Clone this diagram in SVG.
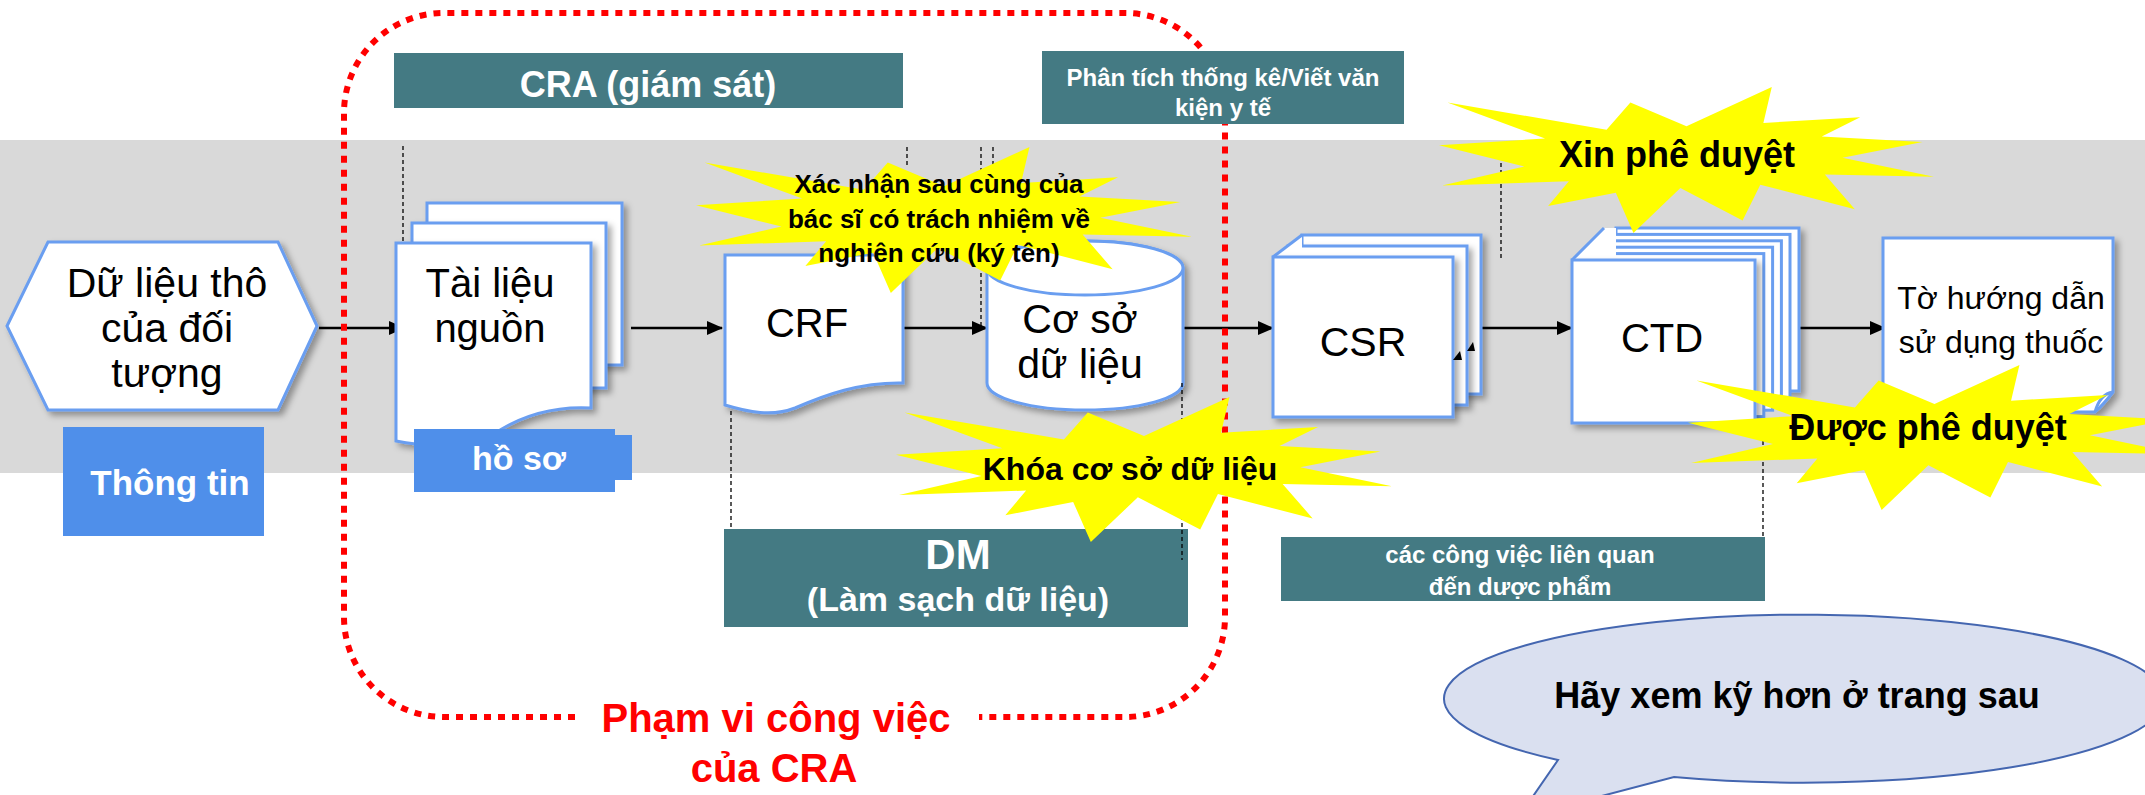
<svg xmlns="http://www.w3.org/2000/svg" xmlns:xlink="http://www.w3.org/1999/xlink" width="2145" height="795" viewBox="0 0 2145 795">
<style>
text{font-family:"Liberation Sans",Arial,sans-serif;}
.pg{fill:#fff;stroke:#6a9ef0;stroke-width:3;}
.teal{fill:#447a83;}
.blue{fill:#4f8fea;}
.wt{fill:#fff;font-weight:bold;text-anchor:middle;}
.bk{fill:#000;text-anchor:middle;}
.bb{fill:#000;font-weight:bold;text-anchor:middle;}
.dash{stroke:#000;stroke-width:1.3;stroke-dasharray:4 3;fill:none;}
.conn{stroke:#000;stroke-width:2.5;fill:none;marker-end:url(#ah);}
.star{fill:#ffff00;}
</style>
<defs>
<marker id="ah" markerUnits="userSpaceOnUse" markerWidth="16" markerHeight="14" viewBox="0 0 16 14" refX="15" refY="7" orient="auto">
<path d="M0,0 L16,7 L0,14 Z" fill="#000"/>
</marker>
<filter id="sh" x="-10%" y="-10%" width="130%" height="130%">
<feDropShadow dx="4" dy="4" stdDeviation="3" flood-color="#000" flood-opacity="0.35"/>
</filter>
<polygon id="seal" points="10800,5800 14522,0 14155,5325 18380,4457 16702,7315 21097,8137 17607,10475 21600,13290 16837,12942 18145,18095 14020,14457 13247,19737 10532,14935 8485,21600 7715,15627 4762,17617 5667,13937 135,14587 3722,11775 0,8615 4627,7617 370,2295 7312,6320 8352,2295"/>
</defs>

<rect x="0" y="0" width="2145" height="795" fill="#fff"/>
<rect x="0" y="140" width="2145" height="333" fill="#d9d9d9"/>

<g id="guides">
<line class="dash" x1="403" y1="146" x2="403" y2="255"/>
<line class="dash" x1="907" y1="147" x2="907" y2="165"/>
<line class="dash" x1="981" y1="147" x2="981" y2="327"/>
<line class="dash" x1="993" y1="147" x2="993" y2="165"/>
<line class="dash" x1="731" y1="397" x2="731" y2="529"/>
<line class="dash" x1="1501" y1="163" x2="1501" y2="258"/>
<line class="dash" x1="1763" y1="413" x2="1763" y2="537"/>
</g>

<g id="connectors">
<line class="conn" x1="319" y1="328" x2="404" y2="328"/>
<line class="conn" x1="631" y1="328" x2="722" y2="328"/>
<line class="conn" x1="898" y1="328" x2="987" y2="328"/>
<line class="conn" x1="1184" y1="328" x2="1273" y2="328"/>
<line class="conn" x1="1482" y1="328" x2="1572" y2="328"/>
<line class="conn" x1="1799" y1="328" x2="1885" y2="328"/>
</g>

<g id="raw-data">
<polygon class="pg" filter="url(#sh)" points="7,326 48,242 278,242 317,326 278,410 48,410"/>
<text class="bk" font-size="41" x="167" y="297">Dữ liệu thô</text>
<text class="bk" font-size="41" x="167" y="342">của đối</text>
<text class="bk" font-size="41" x="167" y="387">tượng</text>
</g>

<g id="thong-tin">
<rect class="blue" x="63" y="427" width="201" height="109"/>
<text class="wt" font-size="35" x="170" y="495">Thông tin</text>
</g>

<g id="source-docs">
<rect class="pg" filter="url(#sh)" x="427" y="203" width="195" height="162"/>
<rect class="pg" filter="url(#sh)" x="412" y="223" width="194" height="165"/>
<path class="pg" filter="url(#sh)" d="M396,243 H591 V408 C555,406 525,415 500,430 C470,447 430,448 396,441 Z"/>
<text class="bk" font-size="40" x="490" y="297">Tài liệu</text>
<text class="bk" font-size="40" x="490" y="342">nguồn</text>
</g>

<g id="ho-so">
<rect class="blue" x="414" y="429" width="201" height="63"/>
<rect class="blue" x="614" y="435" width="18" height="45"/>
<text class="wt" font-size="34" x="519" y="470">hồ sơ</text>
</g>

<g id="crf">
<path class="pg" filter="url(#sh)" d="M725,255 H903 V383 C860,382 825,395 795,408 C772,417 748,412 725,405 Z"/>
<text class="bk" font-size="40" x="807" y="337">CRF</text>
</g>

<g id="database">
<path class="pg" filter="url(#sh)" d="M987,268 V383 A98,27 0 0 0 1183,383 V268 A98,27 0 0 0 987,268 Z"/>
<ellipse class="pg" cx="1085" cy="268" rx="98" ry="27"/>
<text class="bk" font-size="41" x="1080" y="333">Cơ sở</text>
<text class="bk" font-size="41" x="1080" y="378">dữ liệu</text>
</g>

<g id="csr">
<rect class="pg" filter="url(#sh)" x="1302" y="235" width="179" height="159"/>
<rect class="pg" filter="url(#sh)" x="1288" y="246" width="179" height="159"/>
<polygon points="1273,257 1302,235 1302,257" fill="#fff"/>
<line x1="1273" y1="257" x2="1302" y2="235" stroke="#6a9ef0" stroke-width="3"/>
<rect class="pg" filter="url(#sh)" x="1273" y="257" width="180" height="160"/>
<polygon points="1453,360 1462,360 1460,351" fill="#000"/>
<polygon points="1467,351 1475,351 1473,342" fill="#000"/>
<text class="bk" font-size="41" x="1363" y="356">CSR</text>
</g>

<g id="ctd">
<rect class="pg" filter="url(#sh)" x="1616" y="228" width="183" height="163"/>
<rect class="pg" x="1607" y="234.4" width="183" height="163"/>
<rect class="pg" x="1598.4" y="240.8" width="183" height="163"/>
<rect class="pg" x="1589.6" y="247.2" width="183" height="163"/>
<rect class="pg" x="1580.8" y="253.6" width="183" height="163"/>
<polygon points="1572,260 1604,228 1616,228 1616,260" fill="#fff"/>
<line x1="1572" y1="260" x2="1604" y2="228" stroke="#6a9ef0" stroke-width="3"/>
<rect class="pg" filter="url(#sh)" x="1572" y="260" width="183" height="163"/>
<text class="bk" font-size="40" x="1662" y="352">CTD</text>
</g>

<g id="leaflet">
<path class="pg" filter="url(#sh)" d="M1883,238 H2113 V392 Q2104,404 2095,412 H1883 Z"/>
<path d="M2113,392 Q2100,394 2095,412" fill="none" stroke="#6a9ef0" stroke-width="3"/>
<text class="bk" font-size="32" x="2001" y="309">Tờ hướng dẫn</text>
<text class="bk" font-size="32" x="2001" y="353">sử dụng thuốc</text>
</g>

<g id="cra-monitor">
<rect class="teal" x="394" y="53" width="509" height="55"/>
<text class="wt" font-size="36" x="648" y="97">CRA (giám sát)</text>
</g>

<g id="dm">
<rect class="teal" x="724" y="529" width="464" height="98"/>
<text class="wt" font-size="42" x="958" y="569">DM</text>
<text class="wt" font-size="34" x="958" y="611">(Làm sạch dữ liệu)</text>
</g>
<line class="dash" x1="1182" y1="383" x2="1182" y2="560"/>

<g id="pharma-tasks">
<rect class="teal" x="1281" y="537" width="484" height="64"/>
<text class="wt" font-size="24" x="1520" y="563">các công việc liên quan</text>
<text class="wt" font-size="24" x="1520" y="595">đến dược phẩm</text>
</g>

<g id="cra-scope">
<path d="M575,717 H444 A100,100 0 0 1 344,617 V113 A100,100 0 0 1 444,13 H1125 A100,100 0 0 1 1225,113 V617 A100,100 0 0 1 1125,717 H979" fill="none" stroke="#ff0000" stroke-width="6" stroke-dasharray="7 7"/>
<text font-size="40" font-weight="bold" fill="#ff0000" text-anchor="middle" x="776" y="732">Phạm vi công việc</text>
<text font-size="40" font-weight="bold" fill="#ff0000" text-anchor="middle" x="774" y="782">của CRA</text>
</g>

<g id="stats">
<rect class="teal" x="1042" y="51" width="362" height="73"/>
<text class="wt" font-size="24" x="1223" y="86">Phân tích thống kê/Viết văn</text>
<text class="wt" font-size="24" x="1223" y="116">kiện y tế</text>
</g>

<g id="star-sign">
<use xlink:href="#seal" class="star" transform="translate(696,147) scale(0.022963,0.0067593)"/>
<text class="bb" font-size="26" x="939" y="193">Xác nhận sau cùng của</text>
<text class="bb" font-size="26" x="939" y="228">bác sĩ có trách nhiệm về</text>
<text class="bb" font-size="26" x="939" y="262">nghiên cứu (ký tên)</text>
</g>

<g id="star-lock">
<use xlink:href="#seal" class="star" transform="translate(896,397) scale(0.022963,0.0067130)"/>
<text class="bb" font-size="32" x="1130" y="480">Khóa cơ sở dữ liệu</text>
</g>

<g id="star-request">
<use xlink:href="#seal" class="star" transform="translate(1439,87) scale(0.022917,0.0067593)"/>
<text class="bb" font-size="36" x="1677" y="167">Xin phê duyệt</text>
</g>

<g id="star-approved">
<use xlink:href="#seal" class="star" transform="translate(1688,365) scale(0.022824,0.0067130)"/>
<text class="bb" font-size="36" x="1928" y="440">Được phê duyệt</text>
</g>

<g id="callout">
<path d="M1558,760 A360,84 0 1 1 1674,777 L1518,818 Z" fill="#dae0f0" stroke="#4466b0" stroke-width="2"/>
<text class="bb" font-size="36" x="1797" y="708">Hãy xem kỹ hơn ở trang sau</text>
</g>
</svg>
